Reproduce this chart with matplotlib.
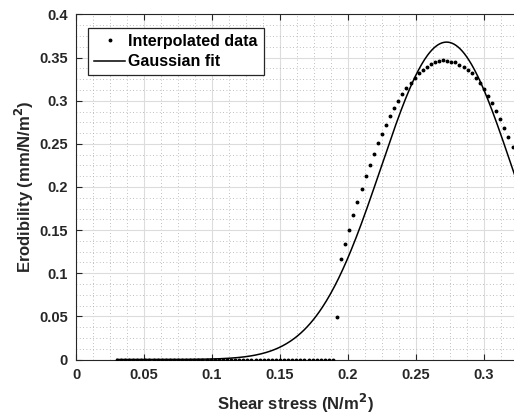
import numpy as np
import matplotlib
matplotlib.use("Agg")
import matplotlib.pyplot as plt
from matplotlib.ticker import MultipleLocator, FuncFormatter

plt.rcParams["font.family"] = ["Liberation Sans", "DejaVu Sans"]
plt.rcParams["font.weight"] = "bold"

# interpolated data (shear stress, erodibility)
tau_flat = [0.030, 0.033, 0.036, 0.039, 0.042, 0.045, 0.048, 0.051, 0.054, 0.057,
            0.060, 0.063, 0.066, 0.069, 0.072, 0.075, 0.078, 0.081, 0.084, 0.087,
            0.090, 0.093, 0.096, 0.099, 0.102, 0.105, 0.108, 0.111, 0.114, 0.117,
            0.120, 0.123, 0.126, 0.129, 0.132, 0.135, 0.138, 0.141, 0.144, 0.147,
            0.150, 0.153, 0.156, 0.159, 0.162, 0.165, 0.168, 0.171, 0.174, 0.177,
            0.180, 0.183, 0.186, 0.189]
erod_flat = [0.0] * len(tau_flat)

tau_rise = [0.192, 0.195, 0.198, 0.201, 0.204, 0.207, 0.210, 0.213, 0.216, 0.219,
            0.222, 0.225, 0.228, 0.231, 0.234, 0.237, 0.240, 0.243, 0.246, 0.249,
            0.252, 0.255, 0.258, 0.261, 0.264, 0.267, 0.270, 0.273, 0.276, 0.279,
            0.282, 0.285, 0.288, 0.291, 0.294, 0.297, 0.300, 0.303, 0.306, 0.309,
            0.312, 0.315, 0.318, 0.321]
erod_rise = [0.0497, 0.1164, 0.1338, 0.1507, 0.1675, 0.1829, 0.1980, 0.2123, 0.2255, 0.2383,
             0.2507, 0.2619, 0.2724, 0.2825, 0.2913, 0.3002, 0.3080, 0.3150, 0.3211, 0.3269,
             0.3319, 0.3362, 0.3397, 0.3424, 0.3447, 0.3459, 0.3467, 0.3463, 0.3455, 0.3444,
             0.3420, 0.3394, 0.3362, 0.3324, 0.3269, 0.3208, 0.3138, 0.3060, 0.2979, 0.2886,
             0.2793, 0.2688, 0.2580, 0.2465]

tau_data = tau_flat + tau_rise
erod_data = erod_flat + erod_rise

# gaussian fit parameters  a*exp(-((x-b)/c)^2)
fit_a, fit_b, fit_c = 0.368, 0.2725, 0.0680
fit_range = (0.03, 0.33)

XMAX = 0.3221
fig = plt.figure(figsize=(5.14, 4.19), dpi=100)
ax = fig.add_axes([0.1479, 0.142, 1.0 - 0.1479, 0.9654 - 0.142])

tx = np.linspace(fit_range[0], fit_range[1], 400)
ty = fit_a * np.exp(-((tx - fit_b) / fit_c) ** 2)

ax.plot(tau_data, erod_data, ls="none", marker=".", ms=3.6, color="black",
        label="Interpolated data", zorder=3)
ax.plot(tx, ty, color="black", lw=1.1, label="Gaussian fit", zorder=3)

ax.set_xlim(0, XMAX)
ax.set_ylim(0, 0.4)
ax.xaxis.set_major_locator(MultipleLocator(0.05))
ax.yaxis.set_major_locator(MultipleLocator(0.05))
ax.xaxis.set_minor_locator(MultipleLocator(0.0125))
ax.yaxis.set_minor_locator(MultipleLocator(0.0125))
fmt = FuncFormatter(lambda v, p: f"{v:.2f}".rstrip("0").rstrip(".") if v else "0")
ax.xaxis.set_major_formatter(fmt)
ax.yaxis.set_major_formatter(fmt)

ax.grid(which="major", color="#dcdcdc", lw=0.8, ls="-", zorder=0)
ax.grid(which="minor", color="#aaaaaa", lw=0.6, ls=(0, (1, 3)), zorder=0)
ax.set_axisbelow(True)

ax.tick_params(which="major", direction="in", length=4, width=0.8, top=True,
               right=False, labelsize=10.5, colors="#262626", pad=6)
ax.tick_params(which="minor", length=0, top=True)
for lab in ax.get_xticklabels() + ax.get_yticklabels():
    lab.set_fontweight("bold")
for s in ["left", "bottom", "top"]:
    ax.spines[s].set_color("#262626")
    ax.spines[s].set_linewidth(0.8)
ax.spines["right"].set_visible(False)

ax.set_xlabel("Shear stress (N/m$^\\mathbf{2}$)", fontsize=12, fontweight="bold",
              color="#262626", labelpad=7)
ax.set_ylabel("Erodibility (mm/N/m$^\\mathbf{2}$)", fontsize=12, fontweight="bold",
              color="#262626", labelpad=2)

leg = ax.legend(loc="upper left", bbox_to_anchor=(0.027, 0.962),
                prop={"weight": "bold", "size": 11.5}, fancybox=False,
                edgecolor="#262626", framealpha=1, handlelength=1.95,
                borderpad=0.4, labelspacing=0.32, handletextpad=0.15,
                borderaxespad=0, markerscale=1.0)
leg.get_frame().set_linewidth(0.9)

fig.savefig("out.png", dpi=100)
